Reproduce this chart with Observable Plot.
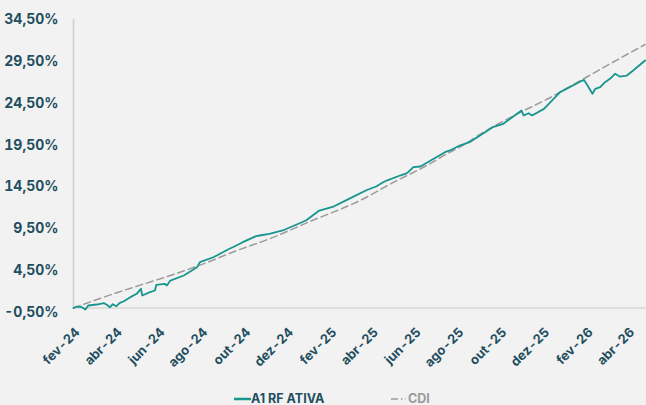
<!DOCTYPE html>
<html>
<head>
<meta charset="utf-8">
<script src="https://cdn.jsdelivr.net/npm/d3@7"></script>
<script src="https://cdn.jsdelivr.net/npm/@observablehq/plot@0.6"></script>
<style>
  html, body { margin: 0; padding: 0; background: #f2f2f2; }
  #wrap { width: 646px; height: 405px; overflow: hidden; position: relative; }
  #legend { position: relative; height: 19px; font-family: Inter, "Open Sans", sans-serif; font-weight: 700; font-size: 12.5px; }
  .item { position: absolute; top: 3px; height: 19px; line-height: 19px; display: flex; align-items: center; }
  svg { display: block; }
</style>
</head>
<body>
<div id="wrap">
  <div id="chart"></div>
  <div id="legend"></div>
</div>
<script>
// ---- data ----
const fundDates = ["2024-02-01","2024-02-06","2024-02-13","2024-02-18","2024-02-22","2024-03-05","2024-03-15","2024-03-19","2024-03-24","2024-03-28","2024-04-02","2024-04-07","2024-04-12","2024-04-22","2024-05-01","2024-05-07","2024-05-09","2024-05-20","2024-05-27","2024-05-29","2024-06-10","2024-06-13","2024-06-18","2024-07-07","2024-07-26","2024-07-30","2024-08-18","2024-08-23","2024-09-10","2024-09-15","2024-09-29","2024-10-18","2024-10-23","2024-11-06","2024-11-25","2024-12-28","2025-01-16","2025-02-04","2025-02-28","2025-03-24","2025-04-07","2025-04-17","2025-04-22","2025-05-11","2025-05-21","2025-05-30","2025-06-09","2025-06-28","2025-07-14","2025-07-21","2025-08-04","2025-08-18","2025-09-20","2025-10-05","2025-10-31","2025-11-03","2025-11-10","2025-11-15","2025-12-02","2025-12-25","2026-01-23","2026-01-28","2026-02-02","2026-02-09","2026-02-13","2026-02-20","2026-02-27","2026-03-06","2026-03-13","2026-03-20","2026-03-30","2026-04-08","2026-04-25"];
const fundValues = [0,0.18,0.10,-0.18,0.30,0.42,0.58,0.42,0.10,0.46,0.22,0.62,0.78,1.30,1.70,2.30,1.50,1.90,2.10,2.78,2.90,2.70,3.29,3.89,4.89,5.49,6.08,6.29,7.09,7.28,7.88,8.60,8.68,8.88,9.28,10.48,11.67,12.10,13.10,14.10,14.55,15.06,15.26,15.86,16.14,16.86,16.94,17.86,18.65,18.86,19.45,19.85,21.65,22.05,23.64,23.05,23.32,23.05,23.84,25.84,27.11,27.31,26.64,25.64,26.24,26.43,27.03,27.44,28.04,27.71,27.83,28.43,29.63];

const cdiDates = ["2024-02-01","2024-03-15","2024-05-01","2024-06-18","2024-08-04","2024-09-21","2024-11-06","2025-01-12","2025-02-04","2025-03-15","2025-05-02","2025-06-18","2025-07-21","2025-08-04","2025-09-06","2025-10-24","2025-12-11","2026-01-23","2026-03-06","2026-04-25"];
const cdiValues = [0,1.30,2.61,3.89,5.29,6.89,8.28,10.68,11.45,12.87,15.06,17.06,18.65,19.25,21.0,23.2,25.2,27.23,29.23,31.54];

const xTickDates = ["2024-02-01","2024-04-01","2024-06-01","2024-08-01","2024-10-01","2024-12-01","2025-02-01","2025-04-01","2025-06-01","2025-08-01","2025-10-01","2025-12-01","2026-02-01","2026-04-01"];
const xTickLabels = ["fev-24","abr-24","jun-24","ago-24","out-24","dez-24","fev-25","abr-25","jun-25","ago-25","out-25","dez-25","fev-26","abr-26"];
const yTicks = [-0.5,4.5,9.5,14.5,19.5,24.5,29.5,34.5];
const yTickLabels = ["-0,50%","4,50%","9,50%","14,50%","19,50%","24,50%","29,50%","34,50%"];

const seriesNames = ["A1 RF ATIVA","CDI"];

// ---- build tables ----
const fund = fundDates.map((d, i) => ({date: new Date(d), value: fundValues[i]}));
const cdi = cdiDates.map((d, i) => ({date: new Date(d), value: cdiValues[i]}));
const xTicks = xTickDates.map(d => new Date(d));
const xLabelMap = new Map(xTicks.map((d, i) => [+d, xTickLabels[i]]));
const yLabelMap = new Map(yTicks.map((v, i) => [v, yTickLabels[i]]));

const teal = "#17958f";
const gray = "#9b9b9b";
const ink = "#1f4e5f";
const H = 386;
const font = "Inter, 'Open Sans', sans-serif";

const chart = Plot.plot({
  width: 646,
  height: H,
  marginLeft: 73,
  marginRight: 0,
  marginTop: 19.3,
  marginBottom: H - 311.7,
  style: {background: "transparent", fontFamily: font, overflow: "visible"},
  x: {type: "utc", domain: [new Date("2024-02-01"), new Date("2026-04-27")], label: null},
  y: {domain: [-0.5, 34.5], label: null},
  marks: [
    Plot.ruleY([0], {stroke: "#d6d6d6", strokeWidth: 1.5}),
    Plot.ruleX([xTicks[0]], {y1: 0, y2: 34.5, stroke: "#cfcfcf", strokeWidth: 1.5}),
    Plot.lineY(cdi, {x: "date", y: "value", stroke: gray, strokeWidth: 1.5, strokeDasharray: "7,4", curve: "monotone-x"}),
    Plot.lineY(fund, {x: "date", y: "value", stroke: teal, strokeWidth: 1.8}),
    Plot.axisY(yTicks, {tickSize: 0, tickPadding: 15, tickFormat: v => yLabelMap.get(v), fontSize: 14, fontWeight: 700, fill: ink}),
    Plot.axisX(xTicks, {tickSize: 0, tickRotate: -45, textAnchor: "end", lineAnchor: "middle", tickPadding: 18, dx: 4, tickFormat: d => xLabelMap.get(+d), fontSize: 13, fontWeight: 700, fill: ink})
  ]
});
document.getElementById("chart").appendChild(chart);

// ---- legend ----
const legend = document.getElementById("legend");
legend.innerHTML =
  `<div class="item" style="left:234px;color:${ink}"><svg width="17" height="4"><line x1="0" x2="17" y1="2" y2="2" stroke="${teal}" stroke-width="2.5"/></svg><span>${seriesNames[0]}</span></div>` +
  `<div class="item" style="left:391px;color:${gray}"><svg width="15" height="4"><line x1="0" x2="15" y1="2" y2="2" stroke="${gray}" stroke-width="1.5" stroke-dasharray="7,3,1.5,3"/></svg><span style="margin-left:2px">${seriesNames[1]}</span></div>`;
</script>
</body>
</html>
